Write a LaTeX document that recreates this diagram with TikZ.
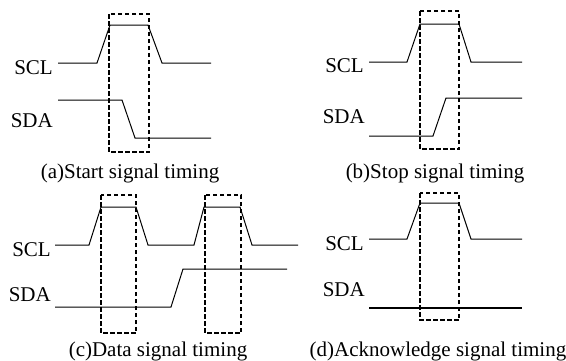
\documentclass[tikz,border=0pt]{standalone}
\usepackage{fontspec}
\setmainfont{Liberation Serif}
\begin{document}
\begin{tikzpicture}
        [x=1pt, y=-1pt,
        sig/.style={line width=1pt, line join=miter},
        sigBold/.style={line width=1.6pt},
        win/.style={line width=2.5pt, dash pattern=on 4.5pt off 2.5pt},
        lbl/.style={anchor=east, inner sep=0pt, font=\fontsize{21}{24}\selectfont},
        capText/.style={inner sep=0pt, font=\fontsize{21}{24}\selectfont}]
        \useasboundingbox (0,0) rectangle (566,360);

        % (a) start
        \node[lbl] (sclA) at (53,68) {SCL};
        \node[lbl] (sdaA) at (53,121) {SDA};
        \draw[sig] (58,63) -- (97,63) -- (110,25) -- (148,25) -- (162,63) -- (211,63);
        \draw[sig] (58,100) -- (122,100) -- (135,138) -- (211,138);
        \draw[win] (109,14) rectangle (149,152);
        \node[capText] (capA) at (130,173) {(a)Start signal timing};

        % (b) stop
        \node[lbl] (sclB) at (364,66) {SCL};
        \node[lbl] (sdaB) at (365,117) {SDA};
        \draw[sig] (369,62) -- (407,62) -- (420,24) -- (459,24) -- (471,62) -- (522,62);
        \draw[sig] (369,136) -- (433,136) -- (446,98) -- (522,98);
        \draw[win] (420,11) rectangle (459,149);
        \node[capText] (capB) at (435,173) {(b)Stop signal timing};

        % (c) data
        \node[lbl] (sclC) at (51,250) {SCL};
        \node[lbl] (sdaC) at (51,295) {SDA};
        \draw[sig] (55,245) -- (89,245) -- (101,207) -- (136,207) -- (148,245) -- (194,245)
            -- (204,207) -- (240,207) -- (252,245) -- (298,245);
        \draw[sig] (55,307) -- (171,307) -- (183,269) -- (287,269);
        \draw[win] (101,195) rectangle (136,333);
        \draw[win] (205,195) rectangle (241,333);
        \node[capText] (capC) at (158,351) {(c)Data signal timing};

        % (d) acknowledge
        \node[lbl] (sclD) at (364,244) {SCL};
        \node[lbl] (sdaD) at (365,290) {SDA};
        \draw[sig] (369,239) -- (407,239) -- (420,203) -- (459,203) -- (471,239) -- (522,239);
        \draw[sigBold] (369,308) -- (522,308);
        \draw[win] (420,193) rectangle (459,320);
        \node[capText] (capD) at (438,351) {(d)Acknowledge signal timing};
\end{tikzpicture}
\end{document}
